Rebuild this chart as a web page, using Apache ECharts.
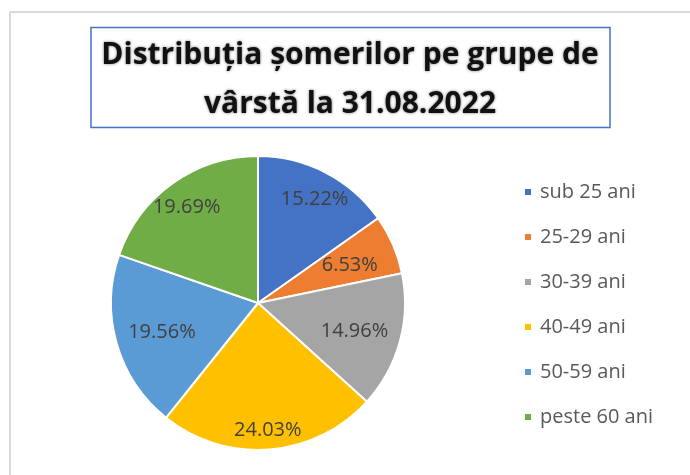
<!DOCTYPE html>
<html>
<head>
<meta charset="utf-8">
<script src="https://cdn.jsdelivr.net/npm/echarts@6/dist/echarts.min.js"></script>
<style>
html,body{margin:0;padding:0;background:#fff;}
#chart{width:690px;height:475px;}
</style>
</head>
<body>
<div id="chart"></div>
<script>
const categories = ['sub 25 ani', '25-29 ani', '30-39 ani', '40-49 ani', '50-59 ani', 'peste 60 ani'];
const values = [15.22, 6.53, 14.96, 24.03, 19.56, 19.69];
const colors = ['#4472C4', '#ED7D31', '#A5A5A5', '#FFC000', '#5B9BD5', '#70AD47'];
const titleText = 'Distribuția șomerilor pe grupe de\nvârstă la 31.08.2022';
// which label ring each slice's label sits on (1 = outer, 0 = inner)
const labelRing = [1, 0, 0, 1, 0, 1];

const chart = echarts.init(document.getElementById('chart'), null, {renderer: 'canvas'});
const FONT = '"Open Sans", Lato, sans-serif';

function labelSeries(ring, radius, dy) {
  return {
    type: 'pie',
    center: [258, 303],
    radius: radius,
    startAngle: 90,
    clockwise: true,
    silent: true,
    data: categories.map((name, i) => ({
      name: name, value: values[i],
      label: {show: labelRing[i] === ring}
    })),
    itemStyle: {color: 'rgba(0,0,0,0)', borderWidth: 0},
    label: {
      position: 'inside',
      formatter: p => p.value.toFixed(2) + '%',
      fontFamily: FONT, fontSize: 20, color: '#404040'
    },
    labelLayout: {dy: dy},
    labelLine: {show: false},
    emphasis: {disabled: true}
  };
}

chart.setOption({
  animation: false,
  color: colors,
  graphic: [
    {type: 'rect', shape: {x: 10, y: 12, width: 700, height: 500},
     style: {fill: 'none', stroke: '#d9d9d9', lineWidth: 2}, silent: true, z: 0},
    {type: 'rect', shape: {x: 91, y: 27.5, width: 519, height: 100},
     style: {fill: 'none', stroke: '#4472C4', lineWidth: 1.5}, silent: true, z: 0}
  ],
  title: {
    text: titleText,
    left: 345,
    top: 26,
    textAlign: 'center',
    textStyle: {
      fontFamily: FONT, fontSize: 30, fontWeight: 'bold', color: '#111',
      lineHeight: 49,
      textShadowColor: 'rgba(0,0,0,0.55)', textShadowBlur: 3
    }
  },
  legend: {
    orient: 'vertical',
    left: 523,
    top: 182,
    padding: 0,
    itemWidth: 8,
    itemHeight: 8,
    itemGap: 25,
    icon: 'rect',
    data: categories,
    textStyle: {fontFamily: FONT, fontSize: 20, color: '#595959', lineHeight: 20, padding: [0, 0, 0, 3]}
  },
  series: [
    {
      type: 'pie',
      center: [258, 303],
      radius: [0, 147],
      startAngle: 90,
      clockwise: true,
      data: categories.map((name, i) => ({name: name, value: values[i]})),
      itemStyle: {borderColor: '#fff', borderWidth: 2},
      label: {show: false},
      labelLine: {show: false},
      emphasis: {disabled: true}
    },
    labelSeries(1, [93, 147], 5),
    labelSeries(0, [47, 147], 2)
  ]
});
</script>
</body>
</html>
